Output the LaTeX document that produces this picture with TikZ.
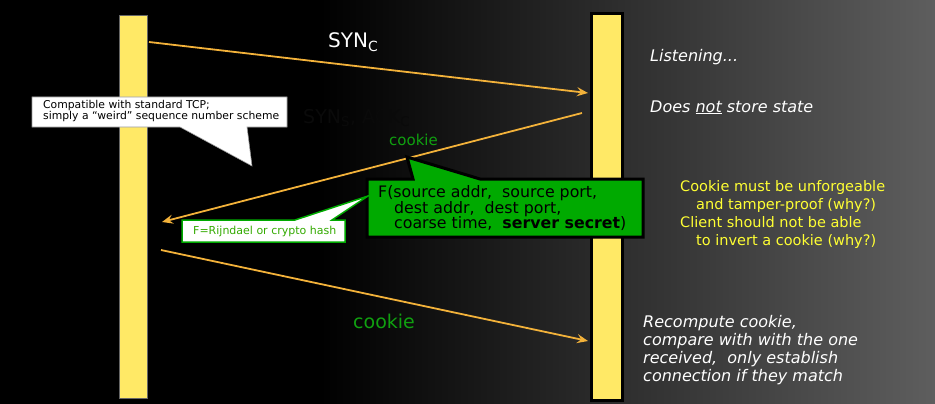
\documentclass[tikz,border=0pt]{standalone}
\usepackage{fontspec}
\setmainfont{DejaVu Sans}
\usetikzlibrary{arrows.meta}
\definecolor{baryel}{HTML}{FFE966}
\definecolor{arrorange}{HTML}{F3B23A}
\definecolor{boxgreen}{HTML}{00AA00}
\definecolor{txtgreen}{HTML}{10A010}
\definecolor{notegreen}{HTML}{33AA00}
\definecolor{ytext}{HTML}{FFFF33}
\definecolor{bggray}{HTML}{5E5E5E}
\tikzset{
  msg/.style={draw=arrorange, line width=1.8pt, -{Stealth[length=11pt,width=9pt,inset=4pt]}},
  lt/.style={inner sep=0pt, anchor=base west},
  wit/.style={lt, text=white, font=\fontsize{16}{18}\selectfont\itshape},
  yel/.style={lt, text=ytext, font=\fontsize{14.5}{17}\selectfont},
  grn/.style={lt, text=black, font=\fontsize{15.8}{16}\selectfont},
}
\begin{document}
\begin{tikzpicture}[x=1pt,y=-1pt]
\useasboundingbox (0,0) rectangle (935,404);
\fill[black] (0,0) rectangle (935,404);
\shade[left color=black, right color=bggray] (320,0) rectangle (935,404);
% bars
\node[draw=black!60, line width=0.6pt, fill=baryel, minimum width=28pt, minimum height=383pt, inner sep=0pt] (cbar) at (133,206.5) {};
\node[draw=black, line width=3pt, fill=baryel, minimum width=31pt, minimum height=387pt, inner sep=0pt] (sbar) at (607,207) {};
% message end points
\coordinate (s1) at (149,42);
\coordinate (e1) at (588,93);
\coordinate (s2) at (582,113);
\coordinate (e2) at (162,222);
\coordinate (s3) at (161,250);
\coordinate (e3) at (588,341);
\draw[msg] (s1) -- (e1);
\draw[msg] (s2) -- (e2);
\draw[msg] (s3) -- (e3);
% message labels
\node[lt, text=black!96, font=\fontsize{19}{19}\selectfont] (synack) at (303,123) {SYN\textsubscript{S}, ACK\textsubscript{C}};
\node[lt, text=white, font=\fontsize{20}{20}\selectfont] (syn) at (328,48) {SYN\textsubscript{C}};
\node[lt, text=txtgreen, font=\fontsize{15}{15}\selectfont] (ck1) at (389,145) {cookie};
\node[lt, text=txtgreen, font=\fontsize{19}{19}\selectfont] (ck2) at (353,328) {cookie};
% callout 1
\filldraw[fill=white, draw=black!40, line width=0.6pt] (32,97) -- (287,97) -- (287,127) -- (247,127) -- (252,166) -- (180,127) -- (32,127) -- cycle;
\node[lt, font=\fontsize{10.8}{11}\selectfont] (c1a) at (43,108) {Compatible with standard TCP;};
\node[lt, font=\fontsize{10.8}{11}\selectfont] (c1b) at (43,119) {simply a “weird” sequence number scheme};
% green callout
\filldraw[fill=boxgreen, draw=black, line width=3pt, line join=miter] (367,179) -- (413,179) -- (407,157) -- (480,179) -- (643,179) -- (643,237) -- (367,237) -- cycle;
\node[grn] (f1) at (378,197.5) {F(source addr,\ \ source port,};
\node[grn] (f2) at (394,213) {dest addr,\ \ dest port,};
\node[grn] (f3) at (394,228) {coarse time,\ \ \textbf{server secret})};
% callout 3
\filldraw[fill=white, draw=boxgreen, line width=1.5pt] (182,220) -- (295,220) -- (368,196) -- (332,220) -- (345,220) -- (345,242) -- (182,242) -- cycle;
\node[lt, text=notegreen, font=\fontsize{11}{11}\selectfont] (fr) at (193,234) {F=Rijndael or crypto hash};
% right texts
\node[wit] (lis) at (650,62) {Listening...};
\node[wit] (dns) at (650,112) {Does \underline{not} store state};
\node[yel] (y1) at (680,191) {Cookie must be unforgeable};
\node[yel] (y2) at (696,209) {and tamper-proof (why?)};
\node[yel] (y3) at (680,227) {Client should not be able};
\node[yel] (y4) at (696,245) {to invert a cookie (why?)};
\node[wit] (r1) at (643,327) {Recompute cookie,};
\node[wit] (r2) at (643,345) {compare with with the one};
\node[wit] (r3) at (643,363) {received,\ \ only establish};
\node[wit] (r4) at (643,381) {connection if they match};
\end{tikzpicture}
\end{document}
